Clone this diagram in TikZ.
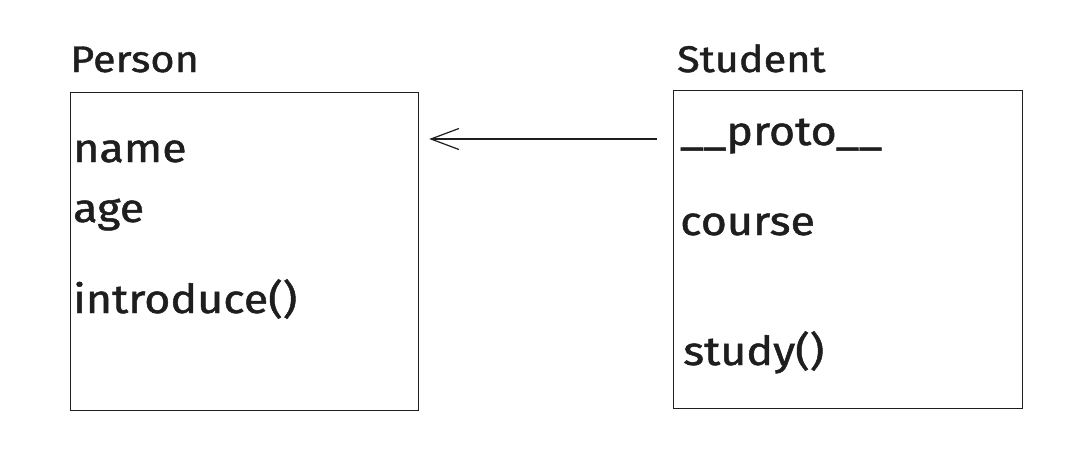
\documentclass[tikz,border=0pt]{standalone}
\usepackage{fontspec}
\setmainfont{Fira Sans}[FakeStretch=1.12,FakeBold=1.2]
\usetikzlibrary{arrows.meta}
\definecolor{ink}{RGB}{30,30,30}

\begin{document}
\begin{tikzpicture}[x=1pt,y=-1pt,
  classbox/.style={draw=ink,line width=1.2pt,anchor=north west,inner sep=0pt},
  member/.style={anchor=base west,inner sep=0pt,text=ink,font=\fontsize{40}{44}\selectfont},
  title/.style={member,font=\fontsize{37}{42}\selectfont}]
\useasboundingbox (0,0) rectangle (1083,466);
\node (person) [classbox,minimum width=348pt,minimum height=318pt] at (70,92) {};
\node (student) [classbox,minimum width=349pt,minimum height=318pt] at (673,90) {};
\node (persontitle) [title] at (70,72) {Person};
\node (studenttitle) [title] at (677,72) {Student};
\node (name) [member] at (73,162) {name};
\node (age) [member] at (73,222) {age};
\node (introduce) [member] at (73,313) {introduce()};
\node (proto) [member] at (680,145) {\_\_proto\_\_};
\node (course) [member] at (680,235) {course};
\node (study) [member] at (683,365) {study()};
\draw [ink,line width=1.2pt,-{Straight Barb[length=28pt,width=21pt,line width=1.2pt]}]
  ([shift={(-16,49)}]student.north west) -- ([shift={(10,47)}]person.north east);
\end{tikzpicture}
\end{document}
